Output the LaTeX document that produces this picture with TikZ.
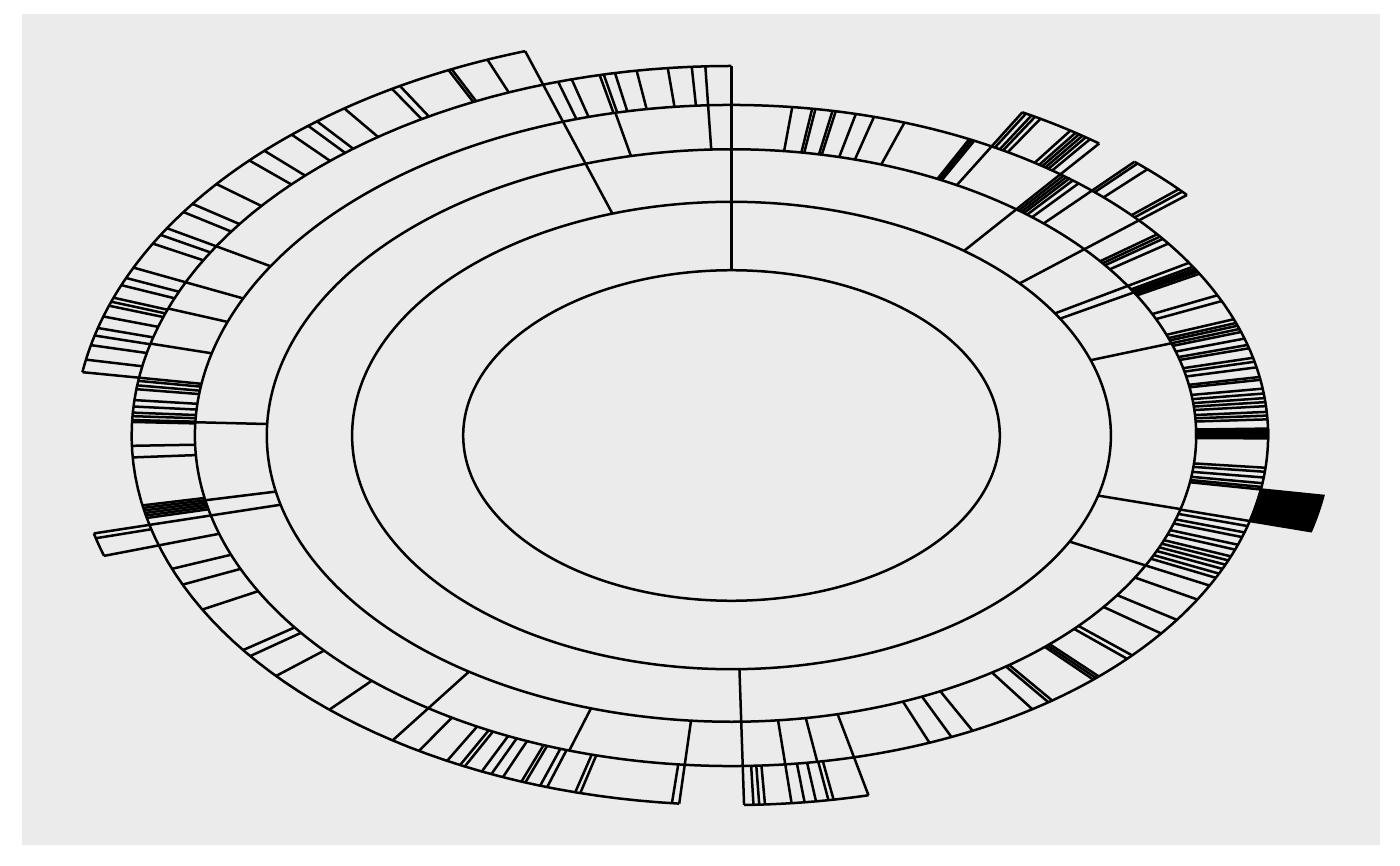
\documentclass[tikz,border=0pt]{standalone}
\definecolor{panel}{HTML}{EBEBEB}
\newcommand*\rZ{268.3}
\newcommand*\rA{379.4}
\newcommand*\rB{464.7}
\newcommand*\rC{536.6}
\newcommand*\rD{599.9}
\newcommand*\rE{657.2}
% angle measured clockwise from top, radius in px; centre (731.5,435.5), vertical squash 0.616
\newcommand\spokes[3]{\foreach \t in {#3} {\draw[seg] ({731.5+(#1)*sin(\t)},{435.5-0.616*(#1)*cos(\t)}) -- ({731.5+(#2)*sin(\t)},{435.5-0.616*(#2)*cos(\t)});}}
\newcommand\ringarc[3]{\draw[seg] plot[domain=#2:#3, samples=90, variable=\t] ({731.5+(#1)*sin(\t)},{435.5-0.616*(#1)*cos(\t)});}
\newcommand\ringblock[4]{\filldraw[seg, fill=black] plot[domain=#3:#4, samples=12, variable=\t] ({731.5+(#2)*sin(\t)},{435.5-0.616*(#2)*cos(\t)}) -- plot[domain=#4:#3, samples=12, variable=\t] ({731.5+(#1)*sin(\t)},{435.5-0.616*(#1)*cos(\t)}) -- cycle;}
\tikzset{seg/.style={line width=2.5pt, draw=black, line cap=butt, line join=miter}}
\begin{document}
\begin{tikzpicture}[x=1pt,y=-1pt]
\fill[white] (0,0) rectangle (1400,866);
\fill[panel] (22,14) rectangle (1380,845);
\useasboundingbox (0,0) rectangle (1400,866);
% full rings
\foreach \r in {\rZ,\rA,\rB,\rC} {\draw[seg] plot[domain=0:360, samples=361, variable=\t] ({731.5+\r*sin(\t)},{435.5-0.616*\r*cos(\t)}) -- cycle;}
% partial outer arcs, level 4
\ringarc{\rD}{29}{37.8}
\ringarc{\rD}{42.2}{49.4}
\ringarc{\rD}{166.8}{178.8}
\ringarc{\rD}{185}{360}
% partial outer arcs, level 5
\ringarc{\rE}{279}{341.7}
\ringarc{\rE}{252.7}{256}
% black blocks
\ringblock{\rC}{\rD}{99.4}{105}
\ringblock{\rB}{\rC}{88.8}{90.5}
% level 1
\spokes{\rZ}{\rA}{0}
% level 2
\spokes{\rA}{\rB}{0,37.8,49.4,58.5,60.0,71.2,104.9,117.0,178.8,341.7}
% level 3
\spokes{\rB}{\rC}{0,6.5,8.65,9.0,10.85,11.2,13.4,15.4,18.8,26.3,26.6,26.9,29.0,37.8,38.2,38.6,39.0,39.5,40.3,42.2,49.4,52.5,53.0,53.5,54.5,58.5,59.3,59.7,60.0,60.3,60.7,64.9,66.0,69.4,70.1,70.6,71.2,71.75,72.95,74.1,74.7,76.4,77.1,78.1,79.8,80.3,81.85,82.7,83.5,84.2,84.9,85.9,86.55,87.2,95.6,96.3,97.3,98.3,98.95,99.4,105.0,105.9,107.05,107.9,109.3,110.2,111.45,112.2,113.0,113.8,114.7,115.5,117.0,119.75,123.9,126.8,131.7,132.5,136.8,137.2,137.6,143.3,143.8,145.9,153.3,155.8,158.35,166.8,170.8,174.25,178.8,185.0,197.6,214.4,256.0,258.7,272.3,341.7,347.5,357.5}
% level 4
\spokes{\rC}{\rD}{29.0,29.4,30.0,30.4,31.0,34.4,35.0,35.4,35.8,36.2,36.7,37.8}
\spokes{\rC}{\rD}{42.2,42.6,43.9,48.2,48.7,49.4}
\spokes{\rC}{\rD}{166.8,170.2,170.7,171.9,173.0,174.25,176.8,177.35,177.9,178.8}
\spokes{\rC}{\rD}{185.0,185.7,194.6,195.1,197.9,198.6,200.1,200.5,202.4,203.6,204.6,206.4,206.9,208.3,211.4,214.4,222.1,229.4,233.35,234.5,241.9,246.2,248.85,252.7,256.0,257.1,257.5,257.9,258.3,258.7,259.1,266.6,268.4,272.1,272.4,273.0,273.55,274.5,275.5,277.2,277.8,278.5,279.0,284.4,290.1,294.5,300.8,341.7,343.2,344.55,347.3,347.7,348.8,350.9,353.9,356.2,357.5,360}
% level 5
\spokes{\rD}{\rE}{279.0,280.8,282.9,284.3,285.4,287.1,288.7,289.3,289.9,291.8,292.9,294.5,298.3,299.7,300.8,303.5,304.9,308.4,312.8,314.7,318.0,319.9,320.9,323.9,328.9,329.7,334.5,334.8,338.2,341.7}
\spokes{\rD}{\rE}{252.7,255.3,256.0}
\end{tikzpicture}
\end{document}
